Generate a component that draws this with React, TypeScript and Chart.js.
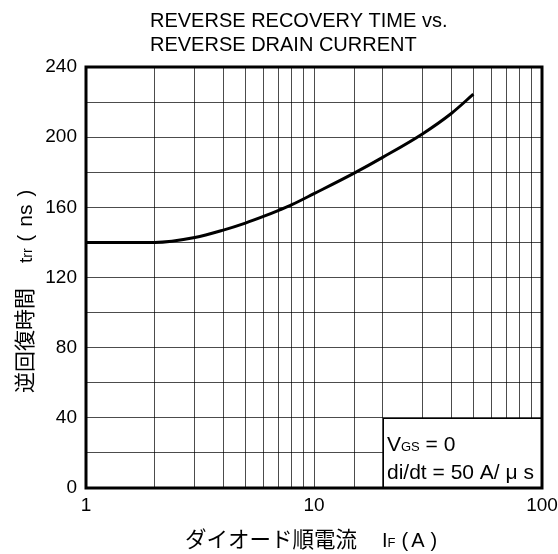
import React, { useEffect, useRef } from 'react';
import { Chart, registerables } from 'chart.js';

Chart.register(...registerables);

// ---- data ----
const currentA = [1, 2, 3, 4, 5, 6, 7, 8, 10, 15, 20, 30, 40, 50];
const trrNs = [140, 140, 142.8, 147, 151, 154.8, 158.3, 161.5, 167.8, 179.5, 188.5, 202, 213.5, 224.5];
const xTickLabels = [1, 10, 100];
const yTickLabels = [0, 40, 80, 120, 160, 200, 240];
const titleLines = ['REVERSE RECOVERY TIME vs.', 'REVERSE DRAIN CURRENT'];

type Piece = { t?: string; size?: number; gap?: number };
const xTitle: Piece[] = [
  { t: 'ダイオード順電流', size: 21.5 },
  { gap: 25 },
  { t: 'I', size: 20 },
  { t: 'F', size: 13 },
  { gap: 6 },
  { t: '(', size: 20 },
  { gap: 3 },
  { t: 'A', size: 20 },
  { gap: 6 },
  { t: ')', size: 20 },
];
const yTitle: Piece[] = [
  { t: '逆回復時間', size: 21 },
  { gap: 25 },
  { t: 't', size: 19 },
  { t: 'rr', size: 14 },
  { gap: 7 },
  { t: '(', size: 20 },
  { gap: 8 },
  { t: 'ns', size: 21 },
  { gap: 8 },
  { t: ')', size: 20 },
];
const noteLine1: Piece[] = [{ t: 'V', size: 21 }, { t: 'GS', size: 13 }, { t: ' = 0', size: 21 }];
const noteLine2: Piece[] = [{ t: 'di/dt = 50 A/ μ s', size: 21 }];

const FAMILY = "'Liberation Sans', Arial, 'Noto Sans CJK JP', sans-serif";
const FS = 19;

function drawPieces(ctx: CanvasRenderingContext2D, pieces: Piece[], x: number, y: number) {
  let cx = x;
  ctx.textAlign = 'left';
  ctx.textBaseline = 'alphabetic';
  for (const p of pieces) {
    if (p.gap) {
      cx += p.gap;
      continue;
    }
    if (!p.t) continue;
    ctx.font = `${p.size || FS}px ${FAMILY}`;
    ctx.fillText(p.t, cx, y);
    cx += ctx.measureText(p.t).width;
  }
}

const decorPlugin = {
  id: 'decor',
  beforeDatasetsDraw(chart: any) {
    const { ctx, scales } = chart;
    const x = scales.x, y = scales.y;
    const l = Math.round(x.getPixelForValue(20));
    const r = Math.round(x.getPixelForValue(100));
    const t = Math.round(y.getPixelForValue(40));
    const b = Math.round(y.getPixelForValue(0));
    ctx.save();
    ctx.fillStyle = '#fff';
    ctx.fillRect(l, t, r - l, b - t);
    ctx.strokeStyle = '#000';
    ctx.lineWidth = 1;
    ctx.strokeRect(l + 0.5, t + 0.5, r - l, b - t);
    ctx.fillStyle = '#000';
    drawPieces(ctx, noteLine1, l + 4, t + 33);
    drawPieces(ctx, noteLine2, l + 4, t + 61);
    ctx.restore();
  },
  afterDraw(chart: any) {
    const { ctx, chartArea } = chart;
    ctx.save();
    ctx.strokeStyle = '#000';
    ctx.lineWidth = 3;
    ctx.strokeRect(chartArea.left, chartArea.top, chartArea.right - chartArea.left, chartArea.bottom - chartArea.top);
    ctx.fillStyle = '#000';
    // title
    ctx.font = `20px ${FAMILY}`;
    ctx.textAlign = 'left';
    ctx.textBaseline = 'alphabetic';
    ctx.fillText(titleLines[0], 150, 27);
    ctx.fillText(titleLines[1], 150, 51);
    // x title
    drawPieces(ctx, xTitle, 185, 547);
    // y title
    ctx.translate(32, 393);
    ctx.rotate(-Math.PI / 2);
    drawPieces(ctx, yTitle, 0, 0);
    ctx.restore();
  },
};

export default function App() {
  const ref = useRef<HTMLCanvasElement>(null);
  useEffect(() => {
    if (!ref.current) return;
    const chart = new Chart(ref.current, {
      type: 'line',
      data: {
        datasets: [
          {
            data: currentA.map((v, i) => ({ x: v, y: trrNs[i] })),
            borderColor: '#000',
            borderWidth: 3,
            pointRadius: 0,
            fill: false,
            cubicInterpolationMode: 'monotone',
          },
        ],
      },
      options: {
        animation: false,
        responsive: false,
        devicePixelRatio: 1,
        layout: { padding: { left: 0, right: 16, top: 67, bottom: 0 } },
        plugins: { legend: { display: false }, tooltip: { enabled: false }, title: { display: false } },
        scales: {
          x: {
            type: 'logarithmic',
            min: 1,
            max: 100,
            grid: { color: 'rgba(0,0,0,0.7)', lineWidth: 1, drawTicks: false },
            border: { display: false },
            ticks: {
              autoSkip: false,
              maxRotation: 0,
              padding: 6,
              color: '#000',
              font: { family: FAMILY, size: FS },
              callback: (v: any) => (xTickLabels.includes(Number(v)) ? String(v) : ''),
            },
            afterFit: (s: any) => {
              s.height = 66;
              s.paddingLeft = 0;
              s.paddingRight = 0;
            },
          },
          y: {
            type: 'linear',
            min: 0,
            max: 240,
            grid: { color: 'rgba(0,0,0,0.7)', lineWidth: 1, drawTicks: false },
            border: { display: false },
            ticks: {
              stepSize: 20,
              padding: 9,
              color: '#000',
              font: { family: FAMILY, size: FS },
              callback: (v: any) => (yTickLabels.includes(Number(v)) ? String(v) : ''),
            },
            afterFit: (s: any) => {
              s.width = 86;
              s.paddingTop = 0;
              s.paddingBottom = 0;
            },
          },
        },
      },
      plugins: [decorPlugin],
    } as any);
    return () => chart.destroy();
  }, []);
  return (
    <div style={{ position: 'fixed', left: 0, top: 0, width: 558, height: 554, background: '#fff' }}>
      <canvas ref={ref} width={558} height={554} />
    </div>
  );
}
